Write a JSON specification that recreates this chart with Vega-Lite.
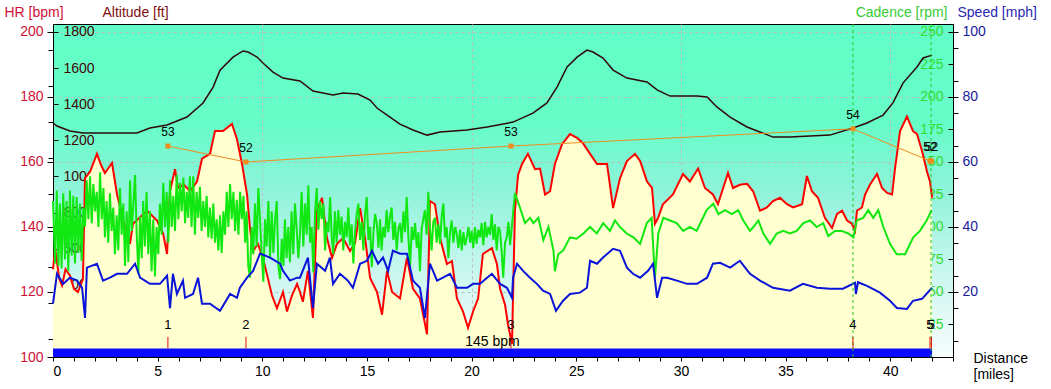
{
  "$schema": "https://vega.github.io/schema/vega-lite/v6.json",
  "width": 900,
  "height": 333,
  "autosize": {"type": "none"},
  "padding": {"left": 53, "top": 24, "right": 98, "bottom": 32},
  "background": "#ffffff",
  "config": {
    "font": "Liberation Sans",
    "view": {
      "stroke": "#000000",
      "strokeWidth": 1,
      "fill": {"gradient": "linear", "x1": 0, "y1": 0, "x2": 0, "y2": 1, "stops": [
        {"offset": 0, "color": "#62fec8"},
        {"offset": 0.3, "color": "#66fcc8"},
        {"offset": 0.5, "color": "#8ff3da"},
        {"offset": 0.7, "color": "#c0f6ec"},
        {"offset": 0.85, "color": "#def9f5"},
        {"offset": 1, "color": "#f6fdfc"}
      ]}
    },
    "axis": {"titleFontWeight": "normal", "titleFont": "Liberation Sans", "labelFont": "Liberation Sans", "tickColor": "#000000", "domainColor": "#000000"}
  },
  "datasets": {
    "hr": [
      {"d":0,"v":127},{"d":0.1,"v":133.5},{"d":0.3,"v":124},{"d":0.43,"v":122},{"d":0.6,"v":127},{"d":0.81,"v":125},{"d":1.0,"v":121},{"d":1.19,"v":120},{"d":1.43,"v":124},{"d":1.53,"v":155},{"d":1.77,"v":157},{"d":2.1,"v":162.5},{"d":2.3,"v":159},{"d":2.48,"v":156.6},{"d":2.82,"v":159.7},{"d":3.06,"v":150},{"d":3.44,"v":140},{"d":3.68,"v":134.8},{"d":3.82,"v":141},{"d":4.16,"v":143},{"d":4.49,"v":145},{"d":4.97,"v":142},{"d":5.26,"v":138},{"d":5.45,"v":131.7},{"d":5.59,"v":151},{"d":5.83,"v":157.8},{"d":5.97,"v":152},{"d":6.26,"v":153},{"d":6.55,"v":151},{"d":6.88,"v":154},{"d":7.12,"v":161},{"d":7.5,"v":162.5},{"d":7.74,"v":169.5},{"d":8.12,"v":169.5},{"d":8.55,"v":171.7},{"d":8.79,"v":167},{"d":9.03,"v":159.4},{"d":9.27,"v":150},{"d":9.41,"v":139.7},{"d":9.56,"v":132.6},{"d":9.79,"v":134.8},{"d":10.03,"v":130.5},{"d":10.22,"v":125.5},{"d":10.46,"v":119},{"d":10.7,"v":115},{"d":10.99,"v":120},{"d":11.18,"v":114},{"d":11.42,"v":119},{"d":11.66,"v":122.5},{"d":11.8,"v":120},{"d":11.94,"v":117},{"d":12.18,"v":126.5},{"d":12.42,"v":112},{"d":12.61,"v":145},{"d":12.85,"v":149},{"d":13.09,"v":136.6},{"d":13.33,"v":130.5},{"d":13.57,"v":134.8},{"d":13.86,"v":136.6},{"d":14.19,"v":132.6},{"d":14.43,"v":135},{"d":14.67,"v":145.8},{"d":14.91,"v":136.6},{"d":15.15,"v":124.3},{"d":15.48,"v":120},{"d":15.72,"v":113},{"d":15.96,"v":126.5},{"d":16.2,"v":120},{"d":16.58,"v":118},{"d":16.91,"v":130.5},{"d":17.2,"v":121},{"d":17.53,"v":118},{"d":17.87,"v":107},{"d":18.01,"v":148},{"d":18.25,"v":147},{"d":18.49,"v":136.6},{"d":18.82,"v":128.6},{"d":19.06,"v":129.5},{"d":19.3,"v":118},{"d":19.59,"v":114},{"d":19.83,"v":109},{"d":20.07,"v":114},{"d":20.31,"v":118},{"d":20.54,"v":131.7},{"d":20.97,"v":133.5},{"d":21.21,"v":128.6},{"d":21.36,"v":121},{"d":21.6,"v":116},{"d":21.74,"v":110},{"d":21.93,"v":104},{"d":22.07,"v":145},{"d":22.22,"v":156},{"d":22.41,"v":159.4},{"d":22.69,"v":162.5},{"d":23.03,"v":157.8},{"d":23.27,"v":158},{"d":23.51,"v":150},{"d":23.75,"v":151},{"d":23.98,"v":159.4},{"d":24.32,"v":165.5},{"d":24.7,"v":168.6},{"d":25.04,"v":167.4},{"d":25.32,"v":165.8},{"d":25.66,"v":162.5},{"d":25.99,"v":159.4},{"d":26.47,"v":159.4},{"d":26.76,"v":145.8},{"d":27.09,"v":155},{"d":27.42,"v":160.3},{"d":27.81,"v":162.5},{"d":28.05,"v":160.3},{"d":28.38,"v":154},{"d":28.62,"v":152},{"d":28.76,"v":141},{"d":28.91,"v":142.8},{"d":29.14,"v":147},{"d":29.62,"v":150},{"d":30.1,"v":156.3},{"d":30.43,"v":154},{"d":30.82,"v":158},{"d":31.15,"v":152},{"d":31.53,"v":150},{"d":31.77,"v":147},{"d":32.25,"v":156.6},{"d":32.49,"v":152},{"d":32.82,"v":153},{"d":33.16,"v":153.3},{"d":33.45,"v":151},{"d":33.78,"v":145},{"d":34.11,"v":146},{"d":34.4,"v":148},{"d":34.73,"v":149},{"d":35.07,"v":147},{"d":35.36,"v":146},{"d":35.79,"v":147},{"d":36.02,"v":155.7},{"d":36.26,"v":151},{"d":36.55,"v":149},{"d":36.88,"v":142.8},{"d":37.22,"v":139.7},{"d":37.46,"v":144},{"d":37.7,"v":145},{"d":37.94,"v":142},{"d":38.17,"v":141},{"d":38.32,"v":138.8},{"d":38.41,"v":145},{"d":38.65,"v":146},{"d":38.8,"v":150},{"d":39.03,"v":153},{"d":39.37,"v":156.3},{"d":39.61,"v":152},{"d":39.85,"v":150.5},{"d":40.09,"v":150},{"d":40.23,"v":158},{"d":40.47,"v":169.5},{"d":40.8,"v":174},{"d":41.09,"v":169.5},{"d":41.28,"v":168.6},{"d":41.52,"v":163.4},{"d":41.76,"v":157},{"d":41.9,"v":154},{"d":42.0,"v":149}
    ],
    "alt": [
      {"d":0,"v":1296},{"d":0.19,"v":1279},{"d":0.81,"v":1252},{"d":1.43,"v":1241},{"d":3.06,"v":1241},{"d":4.01,"v":1241},{"d":4.63,"v":1268},{"d":5.45,"v":1285},{"d":6.4,"v":1329},{"d":7.17,"v":1407},{"d":7.65,"v":1495},{"d":7.98,"v":1589},{"d":8.6,"v":1661},{"d":9.08,"v":1695},{"d":9.32,"v":1689},{"d":9.75,"v":1661},{"d":10.03,"v":1628},{"d":10.51,"v":1578},{"d":10.99,"v":1545},{"d":11.8,"v":1529},{"d":12.42,"v":1473},{"d":13.38,"v":1451},{"d":13.86,"v":1462},{"d":14.57,"v":1456},{"d":15.15,"v":1423},{"d":15.48,"v":1379},{"d":16.1,"v":1329},{"d":16.58,"v":1290},{"d":17.2,"v":1257},{"d":17.87,"v":1229},{"d":18.49,"v":1246},{"d":19.78,"v":1257},{"d":20.74,"v":1274},{"d":21.98,"v":1301},{"d":22.93,"v":1351},{"d":23.6,"v":1407},{"d":24.08,"v":1495},{"d":24.56,"v":1606},{"d":25.04,"v":1661},{"d":25.51,"v":1700},{"d":25.8,"v":1689},{"d":26.28,"v":1656},{"d":26.76,"v":1589},{"d":27.42,"v":1545},{"d":28.38,"v":1523},{"d":28.86,"v":1479},{"d":29.48,"v":1445},{"d":30.77,"v":1445},{"d":31.25,"v":1440},{"d":31.72,"v":1385},{"d":32.35,"v":1329},{"d":33.16,"v":1274},{"d":34.4,"v":1218},{"d":35.21,"v":1218},{"d":37.12,"v":1229},{"d":38.22,"v":1268},{"d":38.89,"v":1296},{"d":39.66,"v":1340},{"d":40.13,"v":1407},{"d":40.61,"v":1517},{"d":41.28,"v":1606},{"d":41.57,"v":1656},{"d":42.0,"v":1672}
    ],
    "cad": [
      {"d":0.0,"v":120},{"d":0.1,"v":72},{"d":0.18,"v":128},{"d":0.26,"v":70},{"d":0.33,"v":118},{"d":0.41,"v":68},{"d":0.49,"v":126},{"d":0.57,"v":75},{"d":0.65,"v":120},{"d":0.73,"v":66},{"d":0.81,"v":128},{"d":0.89,"v":78},{"d":0.97,"v":124},{"d":1.05,"v":72},{"d":1.13,"v":123},{"d":1.21,"v":80},{"d":1.29,"v":118},{"d":1.37,"v":74},{"d":1.45,"v":115},{"d":1.53,"v":100},{"d":1.61,"v":136},{"d":1.69,"v":106},{"d":1.77,"v":139},{"d":1.85,"v":103},{"d":1.93,"v":133},{"d":2.01,"v":112},{"d":2.09,"v":127},{"d":2.17,"v":100},{"d":2.25,"v":142},{"d":2.33,"v":106},{"d":2.41,"v":130},{"d":2.48,"v":92},{"d":2.56,"v":120},{"d":2.64,"v":88},{"d":2.72,"v":126},{"d":2.8,"v":97},{"d":2.88,"v":115},{"d":2.96,"v":79},{"d":3.04,"v":109},{"d":3.12,"v":82},{"d":3.2,"v":130},{"d":3.28,"v":94},{"d":3.36,"v":118},{"d":3.44,"v":70},{"d":3.52,"v":112},{"d":3.6,"v":73},{"d":3.68,"v":136},{"d":3.76,"v":97},{"d":3.84,"v":118},{"d":3.92,"v":140},{"d":4.0,"v":94},{"d":4.08,"v":64},{"d":4.16,"v":108},{"d":4.24,"v":76},{"d":4.31,"v":120},{"d":4.39,"v":85},{"d":4.47,"v":127},{"d":4.55,"v":79},{"d":4.63,"v":112},{"d":4.71,"v":66},{"d":4.79,"v":106},{"d":4.87,"v":62},{"d":4.95,"v":100},{"d":5.03,"v":79},{"d":5.11,"v":118},{"d":5.19,"v":94},{"d":5.27,"v":134},{"d":5.35,"v":100},{"d":5.43,"v":127},{"d":5.51,"v":88},{"d":5.59,"v":136},{"d":5.67,"v":100},{"d":5.75,"v":124},{"d":5.83,"v":97},{"d":5.91,"v":140},{"d":5.99,"v":106},{"d":6.07,"v":134},{"d":6.15,"v":112},{"d":6.23,"v":138},{"d":6.31,"v":103},{"d":6.39,"v":127},{"d":6.46,"v":107},{"d":6.54,"v":139},{"d":6.62,"v":100},{"d":6.7,"v":139},{"d":6.78,"v":94},{"d":6.86,"v":127},{"d":6.94,"v":107},{"d":7.02,"v":131},{"d":7.1,"v":97},{"d":7.18,"v":120},{"d":7.26,"v":100},{"d":7.34,"v":124},{"d":7.42,"v":92},{"d":7.5,"v":115},{"d":7.58,"v":91},{"d":7.66,"v":118},{"d":7.74,"v":88},{"d":7.82,"v":106},{"d":7.9,"v":82},{"d":7.98,"v":109},{"d":8.06,"v":80},{"d":8.14,"v":112},{"d":8.22,"v":94},{"d":8.3,"v":127},{"d":8.38,"v":100},{"d":8.46,"v":133},{"d":8.54,"v":106},{"d":8.62,"v":127},{"d":8.7,"v":97},{"d":8.78,"v":121},{"d":8.86,"v":94},{"d":8.94,"v":127},{"d":9.02,"v":106},{"d":9.1,"v":124},{"d":9.18,"v":88},{"d":9.25,"v":112},{"d":9.33,"v":70},{"d":9.41,"v":61},{"d":9.49,"v":100},{"d":9.57,"v":79},{"d":9.65,"v":118},{"d":9.73,"v":85},{"d":9.81,"v":130},{"d":9.89,"v":106},{"d":9.97,"v":79},{"d":10.05,"v":58},{"d":10.13,"v":106},{"d":10.21,"v":85},{"d":10.29,"v":120},{"d":10.37,"v":76},{"d":10.45,"v":112},{"d":10.53,"v":80},{"d":10.61,"v":106},{"d":10.69,"v":120},{"d":10.77,"v":70},{"d":10.85,"v":60},{"d":10.93,"v":91},{"d":11.01,"v":70},{"d":11.08,"v":106},{"d":11.16,"v":76},{"d":11.24,"v":100},{"d":11.32,"v":73},{"d":11.4,"v":112},{"d":11.48,"v":79},{"d":11.56,"v":118},{"d":11.64,"v":100},{"d":11.72,"v":76},{"d":11.8,"v":95},{"d":11.88,"v":127},{"d":11.96,"v":85},{"d":12.04,"v":118},{"d":12.12,"v":94},{"d":12.2,"v":132},{"d":12.28,"v":88},{"d":12.36,"v":100},{"d":12.44,"v":65},{"d":12.52,"v":112},{"d":12.6,"v":130},{"d":12.68,"v":98},{"d":12.76,"v":120},{"d":12.84,"v":106},{"d":12.92,"v":118},{"d":13.0,"v":82},{"d":13.08,"v":104},{"d":13.16,"v":96},{"d":13.24,"v":123},{"d":13.32,"v":92},{"d":13.39,"v":79},{"d":13.47,"v":112},{"d":13.55,"v":88},{"d":13.63,"v":113},{"d":13.71,"v":94},{"d":13.79,"v":108},{"d":13.87,"v":82},{"d":13.95,"v":104},{"d":14.03,"v":92},{"d":14.11,"v":115},{"d":14.19,"v":86},{"d":14.27,"v":102},{"d":14.35,"v":72},{"d":14.43,"v":96},{"d":14.51,"v":110},{"d":14.59,"v":118},{"d":14.67,"v":90},{"d":14.75,"v":104},{"d":14.83,"v":82},{"d":14.91,"v":110},{"d":14.99,"v":123},{"d":15.07,"v":90},{"d":15.15,"v":100},{"d":15.23,"v":69},{"d":15.31,"v":96},{"d":15.39,"v":110},{"d":15.47,"v":103},{"d":15.55,"v":84},{"d":15.63,"v":106},{"d":15.7,"v":82},{"d":15.78,"v":100},{"d":15.86,"v":92},{"d":15.94,"v":113},{"d":16.02,"v":96},{"d":16.1,"v":108},{"d":16.18,"v":115},{"d":16.26,"v":90},{"d":16.34,"v":104},{"d":16.42,"v":82},{"d":16.5,"v":98},{"d":16.58,"v":103},{"d":16.66,"v":88},{"d":16.74,"v":112},{"d":16.82,"v":96},{"d":16.9,"v":123},{"d":16.98,"v":92},{"d":17.06,"v":69},{"d":17.14,"v":100},{"d":17.22,"v":90},{"d":17.3,"v":103},{"d":17.38,"v":84},{"d":17.46,"v":96},{"d":17.53,"v":66},{"d":17.61,"v":98},{"d":17.69,"v":106},{"d":17.77,"v":113},{"d":17.85,"v":94},{"d":17.93,"v":127},{"d":18.01,"v":100},{"d":18.09,"v":82},{"d":18.17,"v":104},{"d":18.25,"v":107},{"d":18.33,"v":88},{"d":18.41,"v":102},{"d":18.49,"v":87},{"d":18.57,"v":108},{"d":18.65,"v":118},{"d":18.73,"v":92},{"d":18.81,"v":100},{"d":18.89,"v":76},{"d":18.97,"v":96},{"d":19.05,"v":105},{"d":19.13,"v":88},{"d":19.21,"v":100},{"d":19.29,"v":95},{"d":19.37,"v":84},{"d":19.45,"v":98},{"d":19.53,"v":82},{"d":19.61,"v":96},{"d":19.69,"v":86},{"d":19.77,"v":92},{"d":19.85,"v":100},{"d":19.93,"v":88},{"d":20.0,"v":97},{"d":20.08,"v":84},{"d":20.16,"v":100},{"d":20.24,"v":87},{"d":20.32,"v":98},{"d":20.4,"v":92},{"d":20.48,"v":103},{"d":20.56,"v":86},{"d":20.64,"v":104},{"d":20.72,"v":92},{"d":20.8,"v":100},{"d":20.88,"v":94},{"d":20.96,"v":110},{"d":21.04,"v":90},{"d":21.12,"v":102},{"d":21.2,"v":82},{"d":21.28,"v":100},{"d":21.36,"v":97},{"d":21.44,"v":80},{"d":21.51,"v":61},{"d":21.6,"v":88},{"d":21.68,"v":92},{"d":21.76,"v":104},{"d":21.84,"v":86},{"d":21.92,"v":100},{"d":22.07,"v":126},{"d":22.31,"v":115},{"d":22.55,"v":103},{"d":22.79,"v":107},{"d":22.95,"v":103},{"d":23.19,"v":107},{"d":23.43,"v":90},{"d":23.67,"v":100},{"d":23.91,"v":82},{"d":23.98,"v":66},{"d":24.14,"v":79},{"d":24.38,"v":82},{"d":24.7,"v":92},{"d":25.02,"v":91},{"d":25.34,"v":95},{"d":25.66,"v":100},{"d":25.98,"v":95},{"d":26.29,"v":103},{"d":26.61,"v":97},{"d":26.85,"v":105},{"d":27.09,"v":100},{"d":27.41,"v":95},{"d":27.73,"v":92},{"d":28.05,"v":87},{"d":28.37,"v":103},{"d":28.6,"v":107},{"d":28.76,"v":61},{"d":28.92,"v":95},{"d":29.16,"v":107},{"d":29.48,"v":105},{"d":29.8,"v":103},{"d":30.11,"v":97},{"d":30.43,"v":100},{"d":30.75,"v":97},{"d":30.99,"v":105},{"d":31.23,"v":113},{"d":31.55,"v":118},{"d":31.79,"v":110},{"d":32.11,"v":113},{"d":32.43,"v":110},{"d":32.74,"v":113},{"d":32.98,"v":105},{"d":33.3,"v":97},{"d":33.46,"v":100},{"d":33.7,"v":105},{"d":33.94,"v":95},{"d":34.26,"v":87},{"d":34.58,"v":95},{"d":34.89,"v":97},{"d":35.21,"v":95},{"d":35.53,"v":97},{"d":35.85,"v":103},{"d":36.17,"v":105},{"d":36.49,"v":100},{"d":36.8,"v":103},{"d":37.04,"v":93},{"d":37.36,"v":97},{"d":37.68,"v":97},{"d":38.0,"v":95},{"d":38.24,"v":92},{"d":38.4,"v":105},{"d":38.71,"v":107},{"d":38.95,"v":113},{"d":39.19,"v":107},{"d":39.43,"v":113},{"d":39.67,"v":100},{"d":39.99,"v":87},{"d":40.31,"v":79},{"d":40.71,"v":79},{"d":41.1,"v":92},{"d":41.42,"v":97},{"d":41.74,"v":105},{"d":41.98,"v":113}
    ],
    "spd": [
      {"d":0,"v":16.4},{"d":0.19,"v":25.6},{"d":0.48,"v":22.5},{"d":0.81,"v":24.4},{"d":1.15,"v":23.5},{"d":1.39,"v":21.3},{"d":1.53,"v":12},{"d":1.62,"v":27.5},{"d":2.1,"v":28.7},{"d":2.39,"v":23.5},{"d":2.72,"v":24.4},{"d":3.06,"v":25.6},{"d":3.54,"v":25.6},{"d":3.92,"v":28.7},{"d":4.16,"v":24.4},{"d":4.63,"v":22.5},{"d":5.11,"v":22.5},{"d":5.45,"v":25},{"d":5.59,"v":15},{"d":5.73,"v":25.6},{"d":5.92,"v":19.4},{"d":6.21,"v":23.5},{"d":6.31,"v":18.2},{"d":6.69,"v":19.4},{"d":6.93,"v":24.4},{"d":7.12,"v":16.4},{"d":7.5,"v":16.4},{"d":7.98,"v":14.2},{"d":8.46,"v":19.4},{"d":8.79,"v":18.2},{"d":8.93,"v":21.3},{"d":9.27,"v":24.4},{"d":9.56,"v":26.5},{"d":9.89,"v":31.8},{"d":10.37,"v":30.6},{"d":10.85,"v":28.7},{"d":10.99,"v":26.5},{"d":11.32,"v":23.5},{"d":11.66,"v":24.4},{"d":11.8,"v":24.4},{"d":12.18,"v":30.6},{"d":12.42,"v":15.1},{"d":12.61,"v":28.7},{"d":13.0,"v":26.5},{"d":13.23,"v":30.6},{"d":13.38,"v":22.5},{"d":13.71,"v":25.6},{"d":14.09,"v":23.5},{"d":14.33,"v":21.3},{"d":14.67,"v":28.7},{"d":15.0,"v":29.6},{"d":15.24,"v":32.7},{"d":15.53,"v":28.7},{"d":15.77,"v":30.6},{"d":16.01,"v":26.5},{"d":16.24,"v":32.7},{"d":16.58,"v":31.8},{"d":16.91,"v":31.8},{"d":17.2,"v":23.5},{"d":17.53,"v":21.3},{"d":17.77,"v":12},{"d":18.01,"v":28.7},{"d":18.35,"v":23.5},{"d":18.63,"v":24.4},{"d":18.97,"v":25.6},{"d":19.3,"v":21.3},{"d":19.78,"v":21.3},{"d":20.07,"v":22.5},{"d":20.4,"v":22.5},{"d":20.74,"v":24.4},{"d":20.97,"v":25.6},{"d":21.36,"v":22.5},{"d":21.69,"v":21.3},{"d":21.93,"v":18.2},{"d":21.98,"v":24.4},{"d":22.17,"v":28.7},{"d":22.46,"v":26.5},{"d":22.79,"v":24.4},{"d":23.12,"v":22.5},{"d":23.41,"v":20.4},{"d":23.75,"v":19.4},{"d":24.03,"v":14.2},{"d":24.37,"v":17.3},{"d":24.7,"v":19.4},{"d":25.18,"v":19.8},{"d":25.51,"v":21.3},{"d":25.66,"v":29.6},{"d":25.99,"v":28.7},{"d":26.28,"v":30.6},{"d":26.76,"v":33.3},{"d":27.09,"v":32.7},{"d":27.42,"v":27.5},{"d":27.71,"v":25.6},{"d":28.05,"v":24.4},{"d":28.43,"v":26.5},{"d":28.67,"v":28.7},{"d":28.86,"v":18.2},{"d":29.1,"v":24.4},{"d":29.34,"v":24.4},{"d":29.81,"v":23.5},{"d":30.29,"v":22.5},{"d":30.77,"v":22.5},{"d":31.25,"v":24.4},{"d":31.53,"v":28.7},{"d":31.87,"v":29},{"d":32.35,"v":27.5},{"d":32.82,"v":29.6},{"d":33.3,"v":25.6},{"d":33.78,"v":23.5},{"d":34.4,"v":21.3},{"d":35.21,"v":20.4},{"d":35.83,"v":22.5},{"d":36.5,"v":21.3},{"d":37.12,"v":21},{"d":37.74,"v":21},{"d":38.32,"v":22.8},{"d":38.36,"v":19.4},{"d":38.46,"v":23},{"d":38.89,"v":21.9},{"d":39.51,"v":19.8},{"d":39.99,"v":17.3},{"d":40.32,"v":15.1},{"d":40.8,"v":14.8},{"d":41.09,"v":17.3},{"d":41.52,"v":17.9},{"d":42.0,"v":21.3}
    ],
    "laps": [
      {"d":5.49,"v":164.9,"avg":"53","lap":"1"},
      {"d":9.22,"v":160.0,"avg":"52","lap":"2"},
      {"d":21.88,"v":164.9,"avg":"53","lap":"3"},
      {"d":38.22,"v":170.2,"avg":"54","lap":"4"},
      {"d":41.9,"v":160.3,"avg":"52","lap":"5"},
      {"d":41.97,"v":160.3,"avg":"52","lap":"5"}
    ],
    "bar": [{"d":0,"d2":42.0}],
    "vlines": [{"d":38.22},{"d":41.95}],
    "notes": [{"d":21.0,"t":"145 bpm"}]
  },
  "encoding": {
    "x": {
      "field": "d", "type": "quantitative",
      "scale": {"domain": [0, 43], "nice": false, "zero": false},
      "axis": {
        "values": [0,1,2,3,4,5,6,7,8,9,10,11,12,13,14,15,16,17,18,19,20,21,22,23,24,25,26,27,28,29,30,31,32,33,34,35,36,37,38,39,40,41,42,43],
        "labelExpr": "datum.value % 5 == 0 ? datum.label : ''",
        "tickSize": 4, "labelPadding": 3, "labelFontSize": 14, "labelColor": "#000000",
        "grid": true, "gridColor": "#bdbdbd", "gridDash": [3, 3],
        "gridOpacity": {"condition": {"test": "datum.value % 10 == 0 && datum.value > 0", "value": 1}, "value": 0},
        "title": ["Distance", "[miles]"], "titleX": 920, "titleY": -6, "titleAlign": "left", "titleBaseline": "top",
        "titleFontSize": 14, "titleLineHeight": 16, "titleColor": "#000000"
      }
    }
  },
  "layer": [
    {
      "data": {"name": "hr"},
      "encoding": {
        "y": {
          "field": "v", "type": "quantitative",
          "scale": {"domain": [100, 202.46], "nice": false, "zero": false},
          "axis": {
            "orient": "left",
            "values": [100, 120, 140, 160, 180, 200],
            "tickSize": 6, "labelPadding": 4, "labelFontSize": 14, "labelColor": "#d01035",
            "grid": true, "gridColor": "#bdbdbd", "gridDash": [3, 3],
            "gridOpacity": {"condition": {"test": "datum.value > 100", "value": 1}, "value": 0},
            "title": "HR [bpm]", "titleAngle": 0, "titleX": -49, "titleY": -12, "titleAlign": "left", "titleBaseline": "middle",
            "titleFontSize": 14, "titleColor": "#d01035"
          }
        }
      },
      "layer": [
        {"mark": {"type": "area", "color": "#ffffd0", "interpolate": "linear"}, "encoding": {"y2": {"datum": 100}}},
        {"mark": {"type": "line", "color": "#ff0000", "strokeWidth": 2}}
      ]
    },
    {
      "data": {"name": "alt"},
      "mark": {"type": "line", "color": "#300808", "strokeWidth": 1.5},
      "encoding": {
        "y": {
          "field": "v", "type": "quantitative",
          "scale": {"domain": [0, 1844.3], "nice": false, "zero": false},
          "axis": {
            "orient": "left", "domain": false, "format": "d",
            "values": [100,200,300,400,500,600,700,800,900,1000,1100,1200,1300,1400,1500,1600,1700,1800],
            "labelExpr": "datum.value % 200 == 0 ? datum.label : ''",
            "tickSize": {"condition": {"test": "datum.value % 200 == 0", "value": -5}, "value": 5},
            "labelPadding": -5, "labelAlign": "left", "labelFontSize": 14, "labelColor": "#400404",
            "title": "Altitude [ft]", "titleAngle": 0, "titleX": 49, "titleY": -12, "titleAlign": "left", "titleBaseline": "middle",
            "titleFontSize": 14, "titleColor": "#801010"
          }
        }
      }
    },
    {
      "data": {"name": "cad"},
      "mark": {"type": "line", "color": "#11e811", "strokeWidth": 2},
      "encoding": {
        "y": {
          "field": "v", "type": "quantitative",
          "scale": {"domain": [0, 256.15], "nice": false, "zero": false},
          "axis": {
            "orient": "right", "domain": false,
            "values": [12.5,25,37.5,50,62.5,75,87.5,100,112.5,125,137.5,150,162.5,175,187.5,200,212.5,225,237.5,250],
            "labelExpr": "datum.value % 25 == 0 ? datum.label : ''",
            "tickSize": {"condition": {"test": "datum.value % 25 == 0", "value": -5}, "value": 5},
            "labelPadding": -5, "labelAlign": "right", "labelFontSize": 14, "labelColor": "#33dd33",
            "title": "Cadence [rpm]", "titleAngle": 0, "titleX": -6, "titleY": -12, "titleAlign": "right", "titleBaseline": "middle",
            "titleFontSize": 14, "titleColor": "#33cc33"
          }
        }
      }
    },
    {
      "data": {"name": "spd"},
      "mark": {"type": "line", "color": "#0a14d8", "strokeWidth": 2},
      "encoding": {
        "y": {
          "field": "v", "type": "quantitative",
          "scale": {"domain": [0, 102.46], "nice": false, "zero": false},
          "axis": {
            "orient": "right", "domain": true,
            "values": [20, 40, 60, 80, 100],
            "tickSize": 5, "labelPadding": 4, "labelAlign": "left", "labelFontSize": 14, "labelColor": "#1a1a9a",
            "title": "Speed [mph]", "titleAngle": 0, "titleX": 4, "titleY": -12, "titleAlign": "left", "titleBaseline": "middle",
            "titleFontSize": 14, "titleColor": "#2828b4"
          }
        }
      }
    },
    {
      "encoding": {
        "y": {"type": "quantitative", "scale": {"domain": [100, 202.46], "nice": false, "zero": false}, "axis": null}
      },
      "layer": [
        {
          "data": {"name": "bar"},
          "mark": {"type": "rect", "color": "#0a0aff"},
          "encoding": {"x2": {"field": "d2"}, "y": {"datum": 100}, "y2": {"datum": 102.6}}
        },
        {
          "data": {"name": "vlines"},
          "mark": {"type": "rule", "color": "#22cc22", "strokeWidth": 1, "strokeDash": [3, 3]},
          "encoding": {}
        },
        {
          "data": {"name": "laps"},
          "mark": {"type": "rule", "color": "#e01010", "strokeWidth": 1},
          "encoding": {"y": {"datum": 102.6}, "y2": {"datum": 106.2}}
        },
        {
          "data": {"name": "laps"},
          "mark": {"type": "text", "color": "#000000", "fontSize": 13, "baseline": "middle", "align": "center"},
          "encoding": {"y": {"datum": 109.8}, "text": {"field": "lap"}}
        },
        {
          "data": {"name": "laps"},
          "mark": {"type": "line", "color": "#f08c1e", "strokeWidth": 1},
          "encoding": {"y": {"field": "v"}}
        },
        {
          "data": {"name": "laps"},
          "mark": {"type": "square", "color": "#f08c1e", "opacity": 1, "filled": true, "size": 25},
          "encoding": {"y": {"field": "v"}}
        },
        {
          "data": {"name": "laps"},
          "mark": {"type": "text", "color": "#000000", "fontSize": 12, "baseline": "middle", "align": "center", "dy": -14},
          "encoding": {"y": {"field": "v"}, "text": {"field": "avg"}}
        },
        {
          "data": {"name": "notes"},
          "mark": {"type": "text", "color": "#000000", "fontSize": 14, "baseline": "middle", "align": "center"},
          "encoding": {"y": {"datum": 104.6}, "text": {"field": "t"}}
        }
      ]
    }
  ],
  "resolve": {"scale": {"y": "independent"}, "axis": {"y": "independent"}}
}
